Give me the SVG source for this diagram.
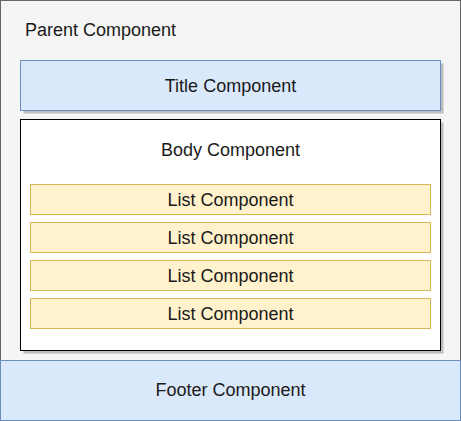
<svg xmlns="http://www.w3.org/2000/svg" width="461" height="421" viewBox="0 0 461 421">
<style>
text{font-family:"Liberation Sans",Arial,sans-serif;font-size:18px;fill:#1a1a1a}
.c{text-anchor:middle}
.blue{fill:#dae8fc;stroke:#6c8ebf;stroke-width:1}
.yellow{fill:#fff2cc;stroke:#d6b656;stroke-width:1}
.shadow{fill:#bdbdbd}
</style>
<g id="parent">
<rect x="0.5" y="0.5" width="460" height="420" fill="#f5f5f5" stroke="#666666"/>
<text x="25" y="36">Parent Component</text>
</g>
<g id="title">
<rect class="shadow" x="23.5" y="63.5" width="420" height="50"/>
<rect class="blue" x="20.5" y="60.5" width="420" height="50"/>
<text class="c" x="230.5" y="91.7">Title Component</text>
</g>
<g id="body">
<rect class="shadow" x="23.5" y="122.5" width="420" height="231"/>
<rect x="20.5" y="119.5" width="420" height="231" fill="#ffffff" stroke="#000000"/>
<text class="c" x="230.5" y="155.7">Body Component</text>
</g>
<g id="list1">
<rect class="yellow" x="30.5" y="184.5" width="400" height="30"/>
<text class="c" x="230.5" y="205.7">List Component</text>
</g>
<g id="list2">
<rect class="yellow" x="30.5" y="222.5" width="400" height="30"/>
<text class="c" x="230.5" y="243.7">List Component</text>
</g>
<g id="list3">
<rect class="yellow" x="30.5" y="260.5" width="400" height="30"/>
<text class="c" x="230.5" y="281.7">List Component</text>
</g>
<g id="list4">
<rect class="yellow" x="30.5" y="298.5" width="400" height="30"/>
<text class="c" x="230.5" y="319.7">List Component</text>
</g>
<g id="footer">
<rect class="blue" x="0.5" y="360.5" width="460" height="60"/>
<text class="c" x="230.5" y="396">Footer Component</text>
</g>
<g id="connectors"></g>
</svg>
